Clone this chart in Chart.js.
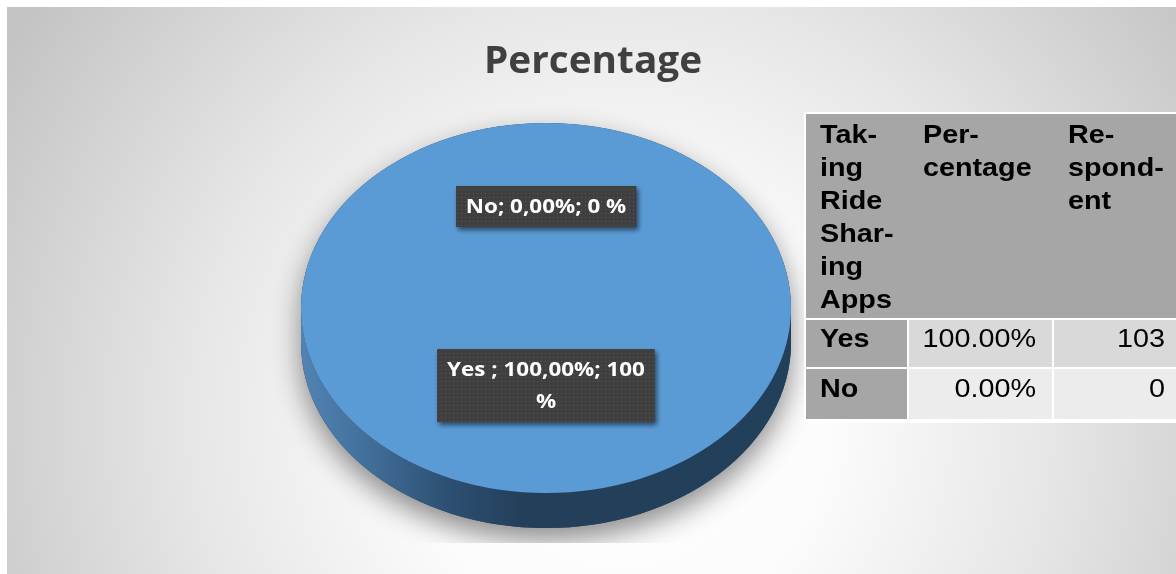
<!DOCTYPE html>
<html>
<head>
<meta charset="utf-8">
<script src="https://cdn.jsdelivr.net/npm/chart.js@4/dist/chart.umd.min.js"></script>
<style>
  html, body { margin: 0; padding: 0; background: #ffffff; overflow: hidden; }
  #wrap { position: relative; width: 1176px; height: 574px; }
</style>
</head>
<body>
<div id="wrap"><canvas id="c" width="1176" height="574"></canvas></div>
<script>
// ---- data ----
const chartTitle = 'Percentage';
const categories = ['Yes ', 'No'];
const percentValues = [100, 0];
const respondents = [103, 0];
const tableHeaderLines = [
  ['Tak-', 'ing', 'Ride', 'Shar-', 'ing', 'Apps'],
  ['Per-', 'centage'],
  ['Re-', 'spond-', 'ent']
];

// ---- look ----
const PIE_TILT = 0.755;      // vertical squash of the disc
const PIE_DEPTH = 35;        // thickness of the disc wall

// dotted fill used behind the slice labels
const dotTile = (() => {
  const t = document.createElement('canvas');
  t.width = 4; t.height = 4;
  const g = t.getContext('2d');
  g.fillStyle = '#3f3f3f'; g.fillRect(0, 0, 4, 4);
  g.fillStyle = '#585858'; g.fillRect(1, 1, 1, 1);
  return t;
})();

function drawStretched(ctx, text, x, y, sx) {
  ctx.save();
  ctx.translate(x, y);
  ctx.scale(sx, 1);
  ctx.fillText(text, 0, 0);
  ctx.restore();
}

// radial grey backdrop of the chart frame
const backdrop = {
  id: 'backdrop',
  beforeDraw(chart, args, o) {
    const ctx = chart.ctx;
    ctx.save();
    ctx.fillStyle = '#ffffff';
    ctx.fillRect(0, 0, chart.width, chart.height);
    const g = ctx.createRadialGradient(o.cx, o.cy, 0, o.cx, o.cy, o.r);
    g.addColorStop(0, '#ffffff');
    g.addColorStop(0.3, '#fbfbfb');
    g.addColorStop(0.6, '#e6e6e6');
    g.addColorStop(1, '#c3c3c3');
    ctx.fillStyle = g;
    ctx.fillRect(o.left, o.top, chart.width - o.left, chart.height - o.top);
    ctx.restore();
  }
};

// tilted disc: shadow + wall, then squash the library-drawn slices
const pie3d = {
  id: 'pie3d',
  beforeDatasetsDraw(chart, args, o) {
    const ctx = chart.ctx;
    const arcs = chart.getDatasetMeta(0).data;
    const { x: cx, y: cy, outerRadius: R } = arcs[0].getProps(['x', 'y', 'outerRadius'], true);
    const ry = R * PIE_TILT, d = PIE_DEPTH;

    ctx.save();
    ctx.beginPath();
    ctx.rect(0, 0, chart.width, o.floorY);
    ctx.clip();
    ctx.shadowColor = o.shadowColor;
    ctx.shadowBlur = o.shadowBlur;
    ctx.shadowOffsetY = o.shadowOffsetY;
    ctx.fillStyle = '#243f59';
    ctx.beginPath();
    ctx.ellipse(cx, cy, R, ry, 0, Math.PI, 2 * Math.PI);
    ctx.lineTo(cx + R, cy + d);
    ctx.ellipse(cx, cy + d, R, ry, 0, 0, Math.PI);
    ctx.closePath();
    ctx.fill();
    ctx.restore();

    const wall = ctx.createLinearGradient(cx - R, 0, cx + R, 0);
    o.wallStops.forEach(([p, c]) => wall.addColorStop(p, c));
    ctx.save();
    ctx.fillStyle = wall;
    arcs.forEach(arc => {
      const { startAngle: s, endAngle: e } = arc.getProps(['startAngle', 'endAngle'], true);
      for (let k = -1; k <= 2; k++) {
        const lo = Math.max(s, 2 * Math.PI * k);
        const hi = Math.min(e, 2 * Math.PI * k + Math.PI);
        if (hi <= lo) continue;
        ctx.beginPath();
        ctx.moveTo(cx + R * Math.cos(lo), cy + ry * Math.sin(lo));
        ctx.ellipse(cx, cy, R, ry, 0, lo, hi, false);
        ctx.lineTo(cx + R * Math.cos(hi), cy + d + ry * Math.sin(hi));
        ctx.ellipse(cx, cy + d, R, ry, 0, hi, lo, true);
        ctx.closePath();
        ctx.fill();
      }
    });
    ctx.restore();

    ctx.save();
    ctx.translate(cx, cy);
    ctx.scale(1, PIE_TILT);
    ctx.translate(-cx, -cy);
  },
  afterDatasetsDraw(chart) {
    chart.ctx.restore();
  }
};

// "name; share%; value %" callouts on the slices
const sliceLabels = {
  id: 'sliceLabels',
  afterDatasetsDraw(chart, args, o) {
    const ctx = chart.ctx;
    const arcs = chart.getDatasetMeta(0).data;
    const total = percentValues.reduce((a, b) => a + b, 0);
    ctx.save();
    ctx.font = o.font;
    arcs.forEach((arc, i) => {
      const { x, y, startAngle, endAngle, outerRadius } =
        arc.getProps(['x', 'y', 'startAngle', 'endAngle', 'outerRadius'], true);
      const mid = (startAngle + endAngle) / 2;
      const r = outerRadius * o.radial[i];
      const px = x + Math.cos(mid) * r;
      const py = y + Math.sin(mid) * r * PIE_TILT;
      const share = (percentValues[i] / total * 100).toFixed(2).replace('.', ',');
      const text = `${categories[i]}; ${share}%; ${percentValues[i]} %`;

      const words = text.split(' ');
      const lines = [];
      let cur = '';
      words.forEach(w => {
        const trial = cur ? cur + ' ' + w : w;
        if (cur && ctx.measureText(trial).width * o.scaleX > o.maxWidth) {
          lines.push(cur); cur = w;
        } else cur = trial;
      });
      if (cur) lines.push(cur);

      const tw = Math.max(...lines.map(l => ctx.measureText(l).width * o.scaleX));
      const w = tw + 2 * o.padX;
      const h = lines.length * o.lineHeight + 2 * o.padY;
      const bx = Math.round(px - w / 2), by = Math.round(py - h / 2);

      ctx.save();
      ctx.shadowColor = 'rgba(0,0,0,0.55)';
      ctx.shadowBlur = 5;
      ctx.shadowOffsetX = 2;
      ctx.shadowOffsetY = 3;
      ctx.fillStyle = ctx.createPattern(dotTile, 'repeat');
      ctx.fillRect(bx, by, w, h);
      ctx.restore();

      ctx.fillStyle = '#ffffff';
      ctx.textAlign = 'center';
      ctx.textBaseline = 'middle';
      lines.forEach((l, j) => {
        drawStretched(ctx, l, px, by + o.padY + o.lineHeight * (j + 0.5) + 1, o.scaleX);
      });
    });
    ctx.restore();
  }
};

// chart heading and the data table beside the disc
const heading = {
  id: 'heading',
  afterDraw(chart, args, o) {
    const ctx = chart.ctx;
    ctx.save();
    ctx.font = 'bold 38px "Open Sans"';
    ctx.fillStyle = '#404040';
    ctx.textAlign = 'center';
    ctx.textBaseline = 'alphabetic';
    drawStretched(ctx, chartTitle, o.x, o.y, 1.02);
    ctx.restore();
  }
};

const dataTable = {
  id: 'dataTable',
  afterDraw(chart, args, o) {
    const ctx = chart.ctx;
    const cols = o.cols, rows = o.rows;
    ctx.save();
    ctx.fillStyle = '#ffffff';
    ctx.fillRect(cols[0] - 2, rows[0] - 2, chart.width - cols[0] + 2, rows[rows.length - 1] - rows[0] + 4);
    // header band
    ctx.fillStyle = o.headerFill;
    ctx.fillRect(cols[0], rows[0], chart.width - cols[0], rows[1] - rows[0] - 2);
    // body cells
    const bodyFills = o.bodyFills;
    for (let r = 1; r < rows.length - 1; r++) {
      for (let c = 0; c < cols.length - 1; c++) {
        ctx.fillStyle = c === 0 ? o.headerFill : bodyFills[r - 1];
        const x0 = cols[c], x1 = cols[c + 1] - 2;
        ctx.fillRect(x0, rows[r], Math.min(x1, chart.width) - x0, rows[r + 1] - rows[r] - 2);
      }
    }
    ctx.fillStyle = '#000000';
    ctx.textBaseline = 'alphabetic';
    // header text
    ctx.font = 'bold ' + o.fontSize + 'px "Liberation Sans", Arial, sans-serif';
    ctx.textAlign = 'left';
    tableHeaderLines.forEach((lines, c) => {
      lines.forEach((t, j) => {
        drawStretched(ctx, t, cols[c] + o.padL, o.headerBase + j * o.lineStep, o.scaleX);
      });
    });
    // body text
    const total = percentValues.reduce((a, b) => a + b, 0);
    categories.forEach((cat, i) => {
      const base = o.bodyBase[i];
      ctx.font = 'bold ' + o.fontSize + 'px "Liberation Sans", Arial, sans-serif';
      ctx.textAlign = 'left';
      drawStretched(ctx, cat.trim(), cols[0] + o.padL, base, o.scaleX);
      ctx.font = o.fontSize + 'px "Liberation Sans", Arial, sans-serif';
      ctx.textAlign = 'right';
      const pct = (percentValues[i] / total * 100).toFixed(2) + '%';
      drawStretched(ctx, pct, cols[2] - 2 - o.padR, base, o.scaleX);
      drawStretched(ctx, String(respondents[i]), cols[3] - 2 - o.padR, base, o.scaleX);
    });
    ctx.restore();
  }
};

new Chart(document.getElementById('c'), {
  type: 'pie',
  data: {
    labels: categories,
    datasets: [{
      data: percentValues,
      backgroundColor: '#5b9bd5',
      borderWidth: 0
    }]
  },
  options: {
    responsive: false,
    animation: false,
    layout: { padding: { left: 301, right: 385, top: 63, bottom: 21 } },
    events: [],
    plugins: {
      legend: { display: false },
      tooltip: { enabled: false },
      title: { display: false },
      backdrop: { cx: 620, cy: 420, r: 720, left: 7, top: 7 },
      pie3d: {
        floorY: 543,
        shadowColor: 'rgba(0,0,0,0.45)',
        shadowBlur: 28,
        shadowOffsetY: 12,
        wallStops: [[0, '#5283b3'], [0.12, '#44729e'], [0.3, '#2d4f72'], [0.45, '#243f5a'], [1, '#22405a']]
      },
      sliceLabels: {
        font: 'bold 19px "Open Sans"',
        scaleX: 1.18,
        maxWidth: 212,
        padX: 10,
        padY: 4.5,
        lineHeight: 32,
        radial: [0.42, 0.55]
      },
      heading: { x: 593, y: 73 },
      dataTable: {
        cols: [806, 909, 1054, 1183],
        rows: [114, 320, 369, 421],
        headerFill: '#a6a6a6',
        bodyFills: ['#d9d9d9', '#ececec'],
        fontSize: 25,
        scaleX: 1.15,
        padL: 14,
        padR: 16,
        headerBase: 143,
        lineStep: 33,
        bodyBase: [347, 397]
      }
    }
  },
  plugins: [backdrop, pie3d, sliceLabels, heading, dataTable]
});
</script>
</body>
</html>
